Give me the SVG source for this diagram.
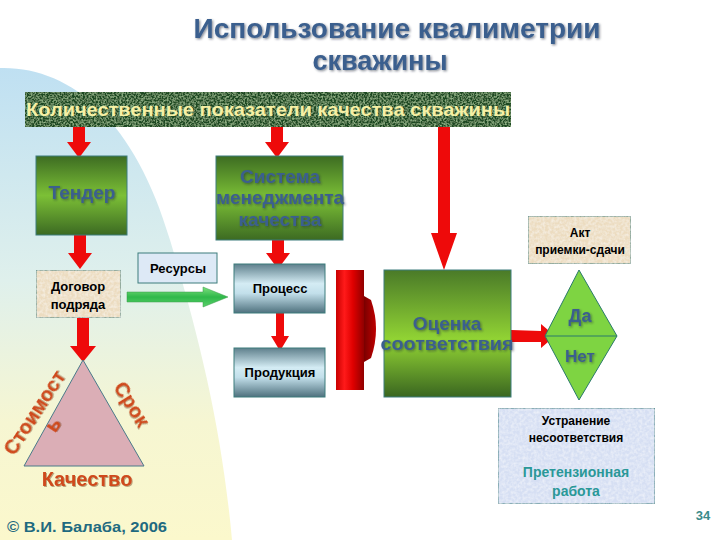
<svg xmlns="http://www.w3.org/2000/svg" width="720" height="540" viewBox="0 0 720 540">
<style>
text{font-family:"Liberation Sans",Arial,sans-serif;font-weight:bold;text-anchor:middle}
.blue{fill:#3b5f8e;filter:url(#sh)}
.blk{fill:#000;font-size:13px}
.red{fill:#ee0a0a}
.box{stroke:#3c7c7c;stroke-width:1}
.org{fill:#cf4a1c;font-size:20px;filter:url(#sh2)}
.teal{fill:#2a9898}
</style>
<defs>
<linearGradient id="bg" x1="0" y1="0" x2="0" y2="1">
<stop offset="0" stop-color="#bfe0f2"/><stop offset="0.45" stop-color="#dff0ec"/><stop offset="0.75" stop-color="#f6f6d2"/><stop offset="1" stop-color="#fbf8cc"/>
</linearGradient>
<linearGradient id="grn" x1="0" y1="0" x2="0" y2="1">
<stop offset="0" stop-color="#3d6c22"/><stop offset="0.5" stop-color="#7cc036"/><stop offset="1" stop-color="#3c6a22"/>
</linearGradient>
<linearGradient id="grn2" x1="0" y1="0" x2="0" y2="1">
<stop offset="0" stop-color="#4a7a28"/><stop offset="0.55" stop-color="#92d434"/><stop offset="1" stop-color="#3a6620"/>
</linearGradient>
<linearGradient id="stl" x1="0" y1="0" x2="0" y2="1">
<stop offset="0" stop-color="#5f808c"/><stop offset="0.4" stop-color="#d4ecf4"/><stop offset="0.6" stop-color="#c2dfea"/><stop offset="1" stop-color="#4f717e"/>
</linearGradient>
<linearGradient id="rbar" x1="0" y1="0" x2="1" y2="0">
<stop offset="0" stop-color="#c80000"/><stop offset="0.3" stop-color="#ff1a1a"/><stop offset="0.6" stop-color="#e00000"/><stop offset="1" stop-color="#900000"/>
</linearGradient>
<linearGradient id="bump" x1="0" y1="0" x2="1" y2="0">
<stop offset="0" stop-color="#7a0000"/><stop offset="1" stop-color="#c00000"/>
</linearGradient>
<linearGradient id="garr" x1="0" y1="0" x2="0" y2="1">
<stop offset="0" stop-color="#7ee07e"/><stop offset="0.5" stop-color="#2fb84a"/><stop offset="1" stop-color="#5ad06a"/>
</linearGradient>
<filter id="tex" x="0" y="0" width="1" height="1">
<feTurbulence type="fractalNoise" baseFrequency="0.55" numOctaves="2" seed="3" result="n"/>
<feColorMatrix in="n" type="matrix" values="0 0 0 0 0.38  0 0 0 0 0.6  0 0 0 0 0.32  0 0 0 1.8 -0.7" result="c"/>
<feComposite in="c" in2="SourceGraphic" operator="atop"/>
</filter>
<filter id="tex2" x="0" y="0" width="1" height="1">
<feTurbulence type="fractalNoise" baseFrequency="0.35" numOctaves="2" seed="7" result="n"/>
<feColorMatrix in="n" type="matrix" values="0 0 0 0 1  0 0 0 0 1  0 0 0 0 1  0 0 0 0.9 -0.3" result="c"/>
<feComposite in="c" in2="SourceGraphic" operator="atop"/>
</filter>
<filter id="sh" x="-10%" y="-20%" width="120%" height="150%">
<feDropShadow dx="1.2" dy="1.2" stdDeviation="0.8" flood-color="#1a2a3a" flood-opacity="0.55"/>
</filter>
<filter id="sh2" x="-10%" y="-20%" width="120%" height="150%">
<feDropShadow dx="1" dy="1" stdDeviation="0.6" flood-color="#5a2a10" flood-opacity="0.4"/>
</filter>
</defs>

<rect width="720" height="540" fill="#fff"/>
<path d="M0,68 C70,66 135,120 170,240 C200,340 222,430 232,540 L0,540 Z" fill="url(#bg)"/>

<g id="title">
<text x="397" y="38" font-size="27" textLength="407" lengthAdjust="spacingAndGlyphs" class="blue">Использование квалиметрии</text>
<text x="380" y="70" font-size="27" textLength="135" lengthAdjust="spacingAndGlyphs" class="blue">скважины</text>
</g>

<g id="indicators">
<rect x="25" y="92" width="486" height="35" fill="#1f4a22" filter="url(#tex)"/>
<text x="268" y="116" font-size="19" font-weight="normal" fill="#f6f0a4" textLength="484" lengthAdjust="spacingAndGlyphs">Количественные показатели качества скважины</text>
</g>

<g id="connectors">
<polygon class="red" points="73,127 85,127 85,142 91,142 79,158 67,142 73,142"/>
<polygon class="red" points="271,127 283,127 283,142 289,142 277,158 265,142 271,142"/>
<polygon class="red" points="438,127 450,127 450,233 457,233 444,270 431,233 438,233"/>
<polygon class="red" points="74,235 86,235 86,253 92,253 80,269 68,253 74,253"/>
<polygon class="red" points="272,240 284,240 284,253 290,253 278,269 266,253 272,253"/>
<polygon class="red" points="276,313 284,313 284,336 289,336 280,351 271,336 276,336"/>
<polygon class="red" points="77,318 89,318 89,346 96,346 83,362 70,346 77,346"/>
<polygon class="red" points="511,330 541,331 541,324 555,336 541,348 541,342 511,342"/>
<polygon fill="url(#garr)" stroke="#3a9a4a" stroke-width="0.5" points="127,292 203,292 203,287 228,297 203,307 203,302 127,302"/>
<g id="barrier">
<rect x="336" y="270" width="28" height="120" fill="url(#rbar)"/>
<path d="M364,296 L371,300 Q381,329 371,358 L364,362 Z" fill="url(#bump)"/>
</g>
</g>

<g id="tender">
<rect class="box" x="36" y="156" width="91" height="79" fill="url(#grn)"/>
<text x="82" y="199" font-size="19" class="blue">Тендер</text>
</g>

<g id="smk">
<rect class="box" x="216" y="156" width="127" height="84" fill="url(#grn)"/>
<text x="280" y="183" font-size="19" class="blue">Система</text>
<text x="280" y="204" font-size="19" class="blue">менеджмента</text>
<text x="280" y="226" font-size="19" class="blue">качества</text>
</g>

<g id="dogovor">
<rect class="box" x="36" y="270" width="85" height="48" fill="#ecdcc0" filter="url(#tex2)"/>
<text x="78" y="291" class="blk">Договор</text>
<text x="78" y="309" class="blk">подряда</text>
</g>

<g id="resursy">
<rect class="box" x="138" y="253" width="79" height="30" fill="#dde9f6"/>
<text x="178" y="273" class="blk">Ресурсы</text>
</g>

<g id="process">
<rect class="box" x="234" y="264" width="91" height="49" fill="url(#stl)"/>
<text x="280" y="293" class="blk">Процесс</text>
</g>

<g id="produkciya">
<rect class="box" x="234" y="348" width="91" height="49" fill="url(#stl)"/>
<text x="280" y="377" class="blk">Продукция</text>
</g>

<g id="ocenka">
<rect class="box" x="384" y="270" width="127" height="127" fill="url(#grn2)"/>
<text x="447" y="330" font-size="19" class="blue">Оценка</text>
<text x="447" y="350" font-size="19" class="blue" textLength="133" lengthAdjust="spacingAndGlyphs">соответствия</text>
</g>

<g id="akt">
<rect class="box" x="528" y="216" width="103" height="48" fill="#ecdcc0" filter="url(#tex2)"/>
<text x="580" y="237" font-size="12" fill="#000">Акт</text>
<text x="580" y="254" font-size="12" fill="#000">приемки-сдачи</text>
</g>

<g id="danet">
<polygon points="579,270 617,336 579,400 545,336" fill="#7ed442" stroke="#2a7a6a" stroke-width="1"/>
<line x1="545" y1="336" x2="617" y2="336" stroke="#2a7a6a" stroke-width="1"/>
<text x="580" y="322" font-size="18" class="blue">Да</text>
<text x="580" y="362" font-size="17" class="blue">Нет</text>
</g>

<g id="ustranenie">
<rect class="box" x="498" y="408" width="157" height="96" fill="#d6dff3" filter="url(#tex2)"/>
<text x="576" y="425" font-size="12" fill="#000">Устранение</text>
<text x="576" y="442" font-size="12" fill="#000">несоответствия</text>
<text x="576" y="477" font-size="14" class="teal">Претензионная</text>
<text x="576" y="496" font-size="14" class="teal">работа</text>
</g>

<g id="triangle">
<polygon points="83,360 144,466 24,466" fill="#dbaeb6" stroke="#4a7a8a" stroke-width="1"/>
<g transform="translate(15,455) rotate(-57)">
<text x="46" y="0" class="org">Стоимост</text>
<text x="46" y="22" class="org">ь</text>
</g>
<text x="0" y="0" class="org" style="text-anchor:start" transform="translate(113,387) rotate(58)">Срок</text>
<text x="87" y="486" class="org">Качество</text>
</g>

<g id="footer">
<text x="7" y="532" font-size="14" fill="#1f6a80" style="text-anchor:start" textLength="160" lengthAdjust="spacingAndGlyphs">©  В.И. Балаба, 2006</text>
<text x="703" y="520" font-size="13" font-weight="normal" fill="#3a8a8a">34</text>
</g>
</svg>
